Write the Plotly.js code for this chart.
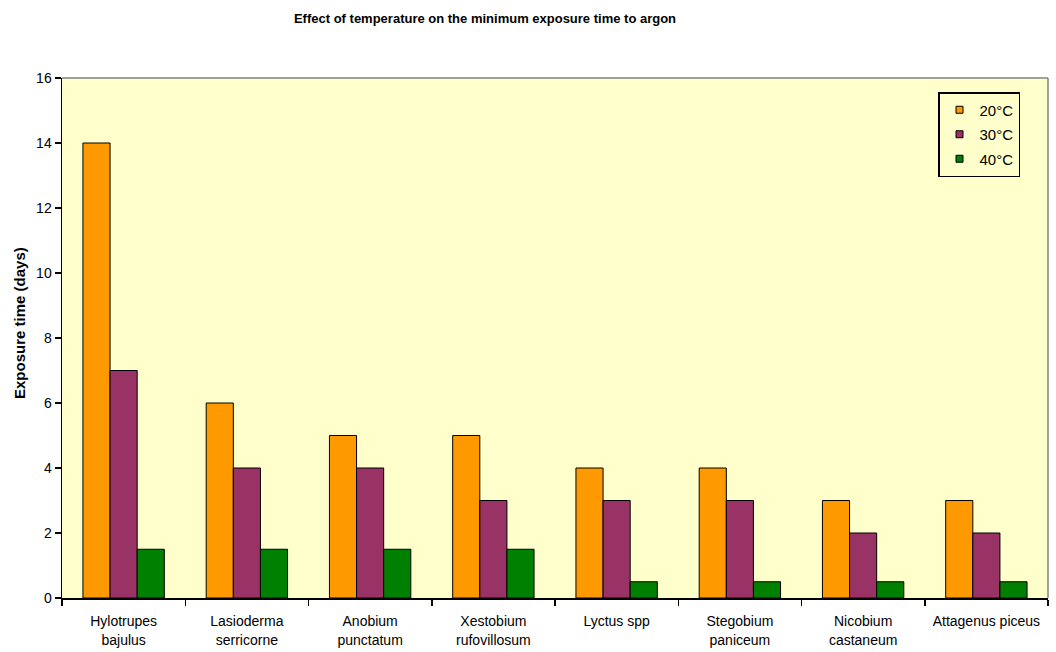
<!DOCTYPE html>
<html>
<head>
<meta charset="utf-8">
<script src="https://cdn.plot.ly/plotly-3.0.1.min.js"></script>
<style>
  html, body { margin: 0; padding: 0; background: #ffffff; }
  #chart { width: 1056px; height: 652px; }
</style>
</head>
<body>
<div id="chart"></div>
<script>
// Insect species tested
const species = [
  "Hylotrupes<br>bajulus",
  "Lasioderma<br>serricorne",
  "Anobium<br>punctatum",
  "Xestobium<br>rufovillosum",
  "Lyctus spp",
  "Stegobium<br>paniceum",
  "Nicobium<br>castaneum",
  "Attagenus piceus"
];

// Minimum exposure time (days) at each temperature
const days20 = [14, 6, 5, 5, 4, 4, 3, 3];
const days30 = [7, 4, 4, 3, 3, 3, 2, 2];
const days40 = [1.5, 1.5, 1.5, 1.5, 0.5, 0.5, 0.5, 0.5];

const seriesNames = ["20°C", "30°C", "40°C"];
const seriesColors = ["#FF9900", "#993366", "#008000"];
const yTicks = [0, 2, 4, 6, 8, 10, 12, 14, 16];

const seriesValues = [days20, days30, days40];

// grouped bars, one trace per temperature
const barTraces = seriesValues.map((vals, i) => ({
  type: "bar",
  name: seriesNames[i],
  legendgroup: "g" + i,
  showlegend: false,
  x: species,
  y: vals,
  marker: { color: seriesColors[i], line: { color: "#000000", width: 1 } },
  hoverinfo: "x+y+name"
}));

// small square swatches for the legend
const keyTraces = seriesNames.map((name, i) => ({
  type: "scatter",
  mode: "markers",
  name: name,
  legendgroup: "g" + i,
  x: [species[0]],
  y: [null],
  marker: { symbol: "square", size: 7, color: seriesColors[i],
            line: { color: "#000000", width: 1 } },
  hoverinfo: "skip"
}));

const font = "Liberation Sans, Arial, sans-serif";

// plotting area in pixels
const W = 1056, H = 652;
const M = { l: 62, r: 8, t: 78, b: 54 };
const plotW = W - M.l - M.r;
const plotH = H - M.t - M.b;
const px = x => (x - M.l) / plotW;
const py = y => (H - M.b - y) / plotH;

const layout = {
  width: W,
  height: H,
  margin: { l: M.l, r: M.r, t: M.t, b: M.b, autoexpand: false },
  paper_bgcolor: "#ffffff",
  plot_bgcolor: "#FFFFCC",
  font: { family: font, size: 14, color: "#000000" },
  barmode: "group",
  bargap: 0.34,
  bargroupgap: 0,
  title: {
    text: "<b>Effect of temperature on the minimum exposure time to argon</b>",
    font: { family: font, size: 13, color: "#000000" },
    x: 485 / W,
    xanchor: "center",
    y: 1 - 18 / H,
    yanchor: "middle"
  },
  xaxis: {
    type: "category",
    showline: true,
    linecolor: "#000000",
    linewidth: 1.5,
    ticks: "outside",
    tickson: "boundaries",
    ticklen: 6,
    tickcolor: "#000000",
    tickwidth: 1.5,
    tickangle: 0,
    ticklabelstandoff: 10,
    automargin: false,
    showgrid: false,
    zeroline: false,
    tickfont: { family: font, size: 14, color: "#000000" },
    fixedrange: true
  },
  yaxis: {
    range: [0, 16],
    tickvals: yTicks,
    ticktext: yTicks.map(String),
    showline: true,
    linecolor: "#000000",
    linewidth: 1.5,
    ticks: "outside",
    ticklen: 6,
    tickcolor: "#000000",
    tickwidth: 1.5,
    automargin: false,
    showgrid: false,
    zeroline: false,
    tickfont: { family: font, size: 14, color: "#000000" },
    fixedrange: true
  },
  legend: {
    x: px(1020),
    y: py(92),
    xanchor: "right",
    yanchor: "top",
    bgcolor: "#FFFFCC",
    bordercolor: "#000000",
    borderwidth: 1.5,
    font: { family: font, size: 15, color: "#000000" },
    itemwidth: 30,
    tracegroupgap: 2
  },
  annotations: [
    {
      text: "<b>Exposure time (days)</b>",
      xref: "paper", yref: "paper",
      x: px(19), y: py(323),
      xanchor: "center", yanchor: "middle",
      textangle: -90,
      showarrow: false,
      font: { family: font, size: 15, color: "#000000" }
    }
  ],
  shapes: [
    // grey frame on the top and right sides of the plotting area
    { type: "line", xref: "paper", yref: "paper", x0: 0, x1: 1, y0: 1, y1: 1,
      line: { color: "#808080", width: 1.5 } },
    { type: "line", xref: "paper", yref: "paper", x0: 1, x1: 1, y0: 0, y1: 1,
      line: { color: "#808080", width: 1.5 } }
  ]
};

Plotly.newPlot("chart", barTraces.concat(keyTraces), layout,
  { displayModeBar: false, staticPlot: true });
</script>
</body>
</html>
